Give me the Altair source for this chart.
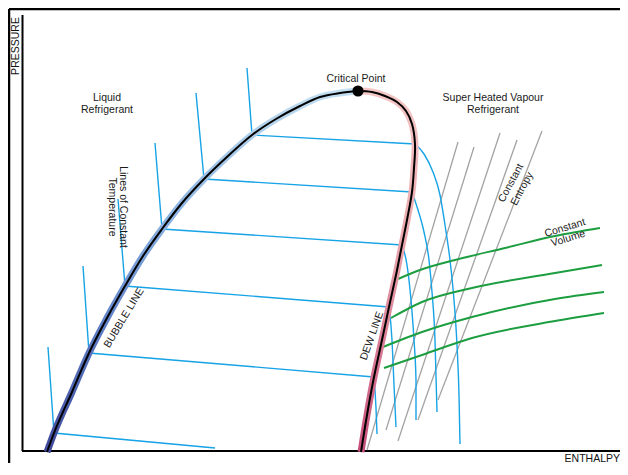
import altair as alt
import pandas as pd

# ---------------- data (enthalpy in x units; pressure axis in row units, top = high pressure) -------------
bubble_h = [47, 54, 72, 89, 107, 125, 143, 162, 182, 204, 228, 252, 276, 300, 320, 340, 358]
bubble_p = [452, 433, 392, 353, 318, 286, 256, 229, 203, 179, 156, 135, 119, 106, 97, 93, 91]

dew_h = [358, 372, 385, 397, 406, 412, 415, 414, 412, 407, 402, 396, 389, 382, 374, 367, 361]
dew_p = [91, 92, 96, 102, 111, 124, 144, 168, 192, 220, 245, 275, 307, 340, 377, 415, 452]

# constant temperature lines: liquid part + wet (horizontal) part
iso_names = ["t1", "t2", "t3", "t4", "t5", "t6"]
iso_h = [[247, 252, 415], [196, 204, 412], [155, 162, 402], [118, 125, 389], [83, 89, 374], [48, 54, 215]]
iso_p = [[68, 135, 144], [93, 179, 192], [143, 229, 245], [199, 286, 307], [266, 353, 377], [347, 433, 448]]

# constant temperature lines: superheated part
sup_h = [[415, 424, 433, 440, 445, 450, 454, 457, 459, 460],
         [412, 418, 424, 429, 432, 435, 437],
         [402, 407, 411, 414, 416, 416],
         [389, 392, 394, 396],
         [374, 376, 377]]
sup_p = [[144, 154, 172, 195, 225, 260, 300, 345, 395, 444],
         [192, 210, 232, 260, 292, 340, 412],
         [245, 265, 300, 340, 380, 420],
         [307, 340, 385, 427],
         [377, 408, 434]]

# constant entropy lines (start, end)
ent_h1 = [367, 386, 398, 418, 438]
ent_p1 = [450, 430, 441, 420, 400]
ent_h2 = [458, 474, 500, 517, 542]
ent_p2 = [142, 147, 133, 140, 131]

# constant volume lines
vol_h = [[398, 420, 455, 505, 555, 600],
         [391, 422, 472, 555, 602],
         [383, 422, 472, 555, 604],
         [384, 422, 472, 555, 604]]
vol_p = [[279, 270, 260, 248, 236, 228],
         [318, 302, 288, 273, 265],
         [347, 332, 317, 299, 292],
         [368, 355, 338, 321, 313]]

critical_h = [358]
critical_p = [91]

# labels: text, position of first line, angle, line height
labels = ["Liquid\nRefrigerant", "Critical Point", "Super Heated Vapour\nRefrigerant",
          "Lines of Constant\nTemperature", "BUBBLE LINE", "DEW LINE",
          "Constant\nEntropy", "Constant\nVolume"]
label_h = [107, 356, 493, 123, 124, 372, 511, 565]
label_p = [98, 79, 98, 207, 318, 336, 183, 228]
label_ang = [0, 0, 0, 90, 301, 290, 298, 343]
label_lh = [12, 12, 12, 11.5, 12, 12, 12.5, 11]

# ---------------- scales ----------------
W, H = 612, 455
xs = alt.Scale(domain=[8, 8 + W], nice=False, zero=False)
ys = alt.Scale(domain=[8 + H, 8], nice=False, zero=False)
FONT = "Liberation Sans"


def X(f="h"):
    return alt.X(f + ":Q", scale=xs, axis=None)


def Y(f="p"):
    return alt.Y(f + ":Q", scale=ys, axis=None)


def series_df(names, hs, ps):
    rows = []
    for n, hh, pp in zip(names, hs, ps):
        for i, (a, b) in enumerate(zip(hh, pp)):
            rows.append({"s": n, "i": i, "h": a, "p": b})
    return pd.DataFrame(rows)


def curve(h, p):
    return pd.DataFrame({"h": h, "p": p, "i": range(len(h))})


# frame and axes
frame = pd.DataFrame({"h": [9, 9, 22.5, 22], "p": [9, 9, 15, 451],
                      "h2": [9, 620, 22.5, 620], "p2": [463, 9, 451, 451],
                      "w": [2.5, 2.5, 2, 2]})
frame_layer = alt.Chart(frame).mark_rule(color="black").encode(
    x=X(), y=Y(), x2="h2:Q", y2="p2:Q", strokeWidth=alt.StrokeWidth("w:Q", scale=None))

# axis titles
axis_txt = pd.DataFrame({"t": ["PRESSURE", "ENTHALPY"], "h": [16, 620], "p": [46, 459]})
pres_layer = alt.Chart(axis_txt.iloc[[0]]).mark_text(
    font=FONT, fontSize=10.5, color="#111", angle=270, baseline="middle", align="center"
).encode(x=X(), y=Y(), text="t:N")
enth_layer = alt.Chart(axis_txt.iloc[[1]]).mark_text(
    font=FONT, fontSize=10.5, color="#111", baseline="middle", align="right"
).encode(x=X(), y=Y(), text="t:N")

# entropy lines
ent = pd.DataFrame({"h": ent_h1, "p": ent_p1, "h2": ent_h2, "p2": ent_p2})
ent_layer = alt.Chart(ent).mark_rule(color="#a3a3a3", strokeWidth=1.3).encode(
    x=X(), y=Y(), x2="h2:Q", y2="p2:Q")

# isotherms
iso_layer = alt.Chart(series_df(iso_names, iso_h, iso_p)).mark_line(
    color="#17a3e6", strokeWidth=1.4).encode(x=X(), y=Y(), detail="s:N", order="i:Q")
sup_layer = alt.Chart(series_df(["s1", "s2", "s3", "s4", "s5"], sup_h, sup_p)).mark_line(
    color="#17a3e6", strokeWidth=1.4, interpolate="monotone").encode(
    x=X(), y=Y(), detail="s:N", order="i:Q")

# volume lines
vol_layer = alt.Chart(series_df(["v1", "v2", "v3", "v4"], vol_h, vol_p)).mark_line(
    color="#1c9e40", strokeWidth=2, interpolate="monotone").encode(
    x=X(), y=Y(), detail="s:N", order="i:Q")

# saturation bands
blue_grad = alt.LinearGradient(
    gradient="linear", x1=0, y1=0, x2=0, y2=1,
    stops=[alt.GradientStop(color="#c2def0", offset=0),
           alt.GradientStop(color="#8ab2e0", offset=0.35),
           alt.GradientStop(color="#5f7fc6", offset=0.65),
           alt.GradientStop(color="#40499a", offset=1)])
pink_grad = alt.LinearGradient(
    gradient="linear", x1=0, y1=0, x2=0, y2=1,
    stops=[alt.GradientStop(color="#f4c6c6", offset=0),
           alt.GradientStop(color="#eba9ae", offset=0.4),
           alt.GradientStop(color="#c64f7c", offset=1)])

bub = curve(bubble_h, bubble_p)
dew = curve(dew_h, dew_p)
bub_band = alt.Chart(bub).mark_line(color=blue_grad, strokeWidth=7, interpolate="monotone",
                                    strokeCap="butt").encode(x=X(), y=Y(), order="i:Q")
dew_band = alt.Chart(dew).mark_line(color=pink_grad, strokeWidth=7, interpolate="catmull-rom",
                                    strokeCap="butt").encode(x=X(), y=Y(), order="i:Q")
bub_line = alt.Chart(bub).mark_line(color="black", strokeWidth=2, interpolate="monotone").encode(
    x=X(), y=Y(), order="i:Q")
dew_line = alt.Chart(dew).mark_line(color="black", strokeWidth=2, interpolate="catmull-rom").encode(
    x=X(), y=Y(), order="i:Q")

crit = alt.Chart(pd.DataFrame({"h": critical_h, "p": critical_p})).mark_circle(
    color="black", opacity=1, size=125).encode(x=X(), y=Y())

lab = pd.DataFrame({"t": labels, "h": label_h, "p": label_p, "a": label_ang, "lh": label_lh})
lab_layers = []
for k in range(len(lab)):
    lab_layers.append(
        alt.Chart(lab.iloc[[k]]).mark_text(
            font=FONT, fontSize=10.5, color="#1a1a1a", lineBreak="\n",
            lineHeight=float(lab["lh"].iloc[k]), angle=int(lab["a"].iloc[k]),
            align="center", baseline="middle").encode(x=X(), y=Y(), text="t:N"))

chart = alt.layer(
    frame_layer, ent_layer, iso_layer, sup_layer, vol_layer,
    bub_band, dew_band, bub_line, dew_line, crit,
    pres_layer, enth_layer, *lab_layers
).properties(width=W, height=H, padding=0, autosize="none").configure_view(stroke=None)

chart.save("out.html", embed_options={"renderer": "svg", "actions": False})
